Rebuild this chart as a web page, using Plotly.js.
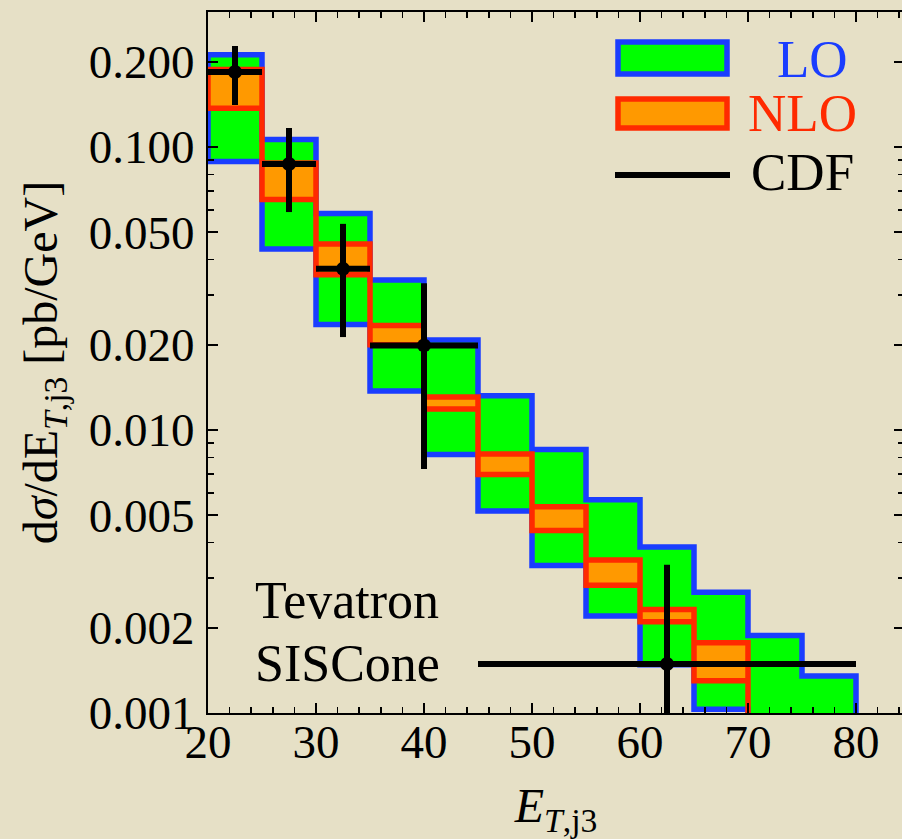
<!DOCTYPE html>
<html>
<head>
<meta charset="utf-8">
<script src="https://cdn.plot.ly/plotly-3.0.1.min.js"></script>
<style>
html,body{margin:0;padding:0;overflow:hidden;background:#e6e0c6;}
#chart{width:906px;height:839px;}
</style>
</head>
<body>
<div id="chart"></div>
<script>
// ---------------- data ----------------
const binEdges = [20, 25, 30, 35, 40, 45, 50, 55, 60, 65, 70, 75, 80];
// LO band (null = below the plotted range)
const loUpper = [0.212, 0.1063, 0.0582, 0.0339, 0.0208, 0.0132, 0.00853, 0.00567, 0.00386, 0.00267, 0.00188, 0.00135];
const loLower = [0.0889, 0.0436, 0.0236, 0.01373, 0.00819, 0.00517, 0.00332, 0.00220, 0.00148, 0.00103, null, null];
// NLO band
const nloUpper = [0.188, 0.0878, 0.0454, 0.0234, 0.01309, 0.00822, 0.00535, 0.00347, 0.00232, 0.00177, null, null];
const nloLower = [0.137, 0.0652, 0.0354, 0.0200, 0.01186, 0.00696, 0.00441, 0.00283, 0.00210, 0.00130, null, null];
// CDF data
const cdfX     = [22.5, 27.5, 32.5, 40, 62.5];
const cdfXLow  = [20, 25, 30, 35, 45];
const cdfXHigh = [25, 30, 35, 45, 80];
const cdfY     = [0.184, 0.0871, 0.0371, 0.0199, 0.00149];
const cdfYHigh = [0.2275, 0.1167, 0.0535, 0.0330, 0.00334];
const cdfYLow  = [0.1407, 0.0589, 0.0213, 0.00728, null];
// ticks
const yTickVals = [0.001, 0.002, 0.005, 0.01, 0.02, 0.05, 0.1, 0.2];
const yTickText = ["0.001", "0.002", "0.005", "0.010", "0.020", "0.050", "0.100", "0.200"];
const yMinorVals = [0.003, 0.004, 0.006, 0.007, 0.008, 0.009, 0.03, 0.04, 0.06, 0.07, 0.08, 0.09];
const xTickVals = [20, 30, 40, 50, 60, 70, 80];
const legendLabels = ["LO", "NLO", "CDF"];
const noteLines = ["Tevatron", "SISCone"];

// ---------------- helpers ----------------
const OFF = 1e-4; // value used for "below plotted range"
function bandPath(upper, lower) {
  const xs = [], ys = [];
  for (let i = 0; i < upper.length; i++) {
    const u = upper[i] == null ? OFF : upper[i];
    xs.push(binEdges[i], binEdges[i + 1]); ys.push(u, u);
  }
  for (let i = lower.length - 1; i >= 0; i--) {
    const l = lower[i] == null ? OFF : lower[i];
    xs.push(binEdges[i + 1], binEdges[i]); ys.push(l, l);
  }
  xs.push(xs[0]); ys.push(ys[0]);
  return {xs, ys};
}
const lo = bandPath(loUpper, loLower);
const nlo = bandPath(nloUpper, nloLower);

const barX = [], barY = [];
for (let i = 0; i < cdfX.length; i++) {
  barX.push(cdfX[i], cdfX[i], null);
  barY.push(cdfYLow[i] == null ? OFF : cdfYLow[i], cdfYHigh[i], null);
  barX.push(cdfXLow[i], cdfXHigh[i], null);
  barY.push(cdfY[i], cdfY[i], null);
}

const BLUE = '#1a3dff', GREEN = '#00ff00', RED = '#ff2a00', ORANGE = '#ff9900';
const FONT = 'Liberation Serif, Times New Roman, serif';
const BG = '#e6e0c6';

const W = 906, H = 839, ML = 208, MT = 12, MB = 126, MR = 2;
const PW = W - ML - MR, PH = H - MT - MB;
const px = p => (p - ML) / PW;
const py = p => (H - MB - p) / PH;

const traces = [
  {x: lo.xs, y: lo.ys, type: 'scatter', mode: 'lines', fill: 'toself',
   fillcolor: GREEN, line: {color: BLUE, width: 5.5}, hoverinfo: 'skip', showlegend: false},
  {x: nlo.xs, y: nlo.ys, type: 'scatter', mode: 'lines', fill: 'toself',
   fillcolor: ORANGE, line: {color: RED, width: 5.5}, hoverinfo: 'skip', showlegend: false},
  {x: barX, y: barY, type: 'scatter', mode: 'lines', line: {color: 'black', width: 6},
   hoverinfo: 'skip', showlegend: false, connectgaps: false},
  {x: cdfX, y: cdfY, type: 'scatter', mode: 'markers', marker: {color: 'black', size: 14},
   hoverinfo: 'skip', showlegend: false, cliponaxis: true}
];

const shapes = [
  {type: 'rect', xref: 'paper', yref: 'paper', x0: px(618), x1: px(727), y0: py(42), y1: py(74),
   fillcolor: GREEN, line: {color: BLUE, width: 5.5}},
  {type: 'rect', xref: 'paper', yref: 'paper', x0: px(618), x1: px(727), y0: py(99), y1: py(128),
   fillcolor: ORANGE, line: {color: RED, width: 5.5}},
  {type: 'line', xref: 'paper', yref: 'paper', x0: px(615), x1: px(730), y0: py(175), y1: py(175),
   line: {color: 'black', width: 6}}
];

const annotations = [
  {text: legendLabels[0], xref: 'paper', yref: 'paper', x: px(812), y: py(59), xanchor: 'center', yanchor: 'middle',
   showarrow: false, font: {family: FONT, size: 53, color: BLUE}},
  {text: legendLabels[1], xref: 'paper', yref: 'paper', x: px(802), y: py(113), xanchor: 'center', yanchor: 'middle',
   showarrow: false, font: {family: FONT, size: 53, color: RED}},
  {text: legendLabels[2], xref: 'paper', yref: 'paper', x: px(802), y: py(172), xanchor: 'center', yanchor: 'middle',
   showarrow: false, font: {family: FONT, size: 53, color: 'black'}},
  {text: noteLines[0], xref: 'paper', yref: 'paper', x: px(253), y: py(600), xanchor: 'left', yanchor: 'middle',
   showarrow: false, font: {family: FONT, size: 52, color: 'black'}},
  {text: noteLines[1], xref: 'paper', yref: 'paper', x: px(253), y: py(663), xanchor: 'left', yanchor: 'middle',
   showarrow: false, font: {family: FONT, size: 52, color: 'black'}}
];

const axisCommon = {
  showline: true, linecolor: 'black', linewidth: 2, mirror: 'ticks',
  ticks: 'inside', ticklen: 10, tickwidth: 1.5, tickcolor: 'black',
  showgrid: false, zeroline: false,
  tickfont: {family: FONT, size: 47, color: 'black'}
};

const layout = {
  width: W, height: H,
  margin: {l: ML, r: MR, t: MT, b: MB, pad: 0},
  paper_bgcolor: BG, plot_bgcolor: BG,
  font: {family: FONT, color: 'black'},
  showlegend: false,
  xaxis: Object.assign({}, axisCommon, {
    type: 'linear', range: [20, 20 + PW / 10.8],
    tickmode: 'array', tickvals: xTickVals,
    ticklabelstandoff: -13,
    minor: {dtick: 2, tick0: 20, ticks: 'inside', ticklen: 6, tickwidth: 1.5, tickcolor: 'black'},
    title: {text: '<i>E</i><sub><i>T</i>,j3</sub>', font: {family: FONT, size: 48, color: 'black'}, standoff: 27}
  }),
  yaxis: Object.assign({}, axisCommon, {
    type: 'log', range: [-3, -0.523],
    tickmode: 'array', tickvals: yTickVals, ticktext: yTickText,
    ticklabelstandoff: 2,
    minor: {tickmode: 'array', tickvals: yMinorVals, ticks: 'inside', ticklen: 6, tickwidth: 1.5, tickcolor: 'black'},
    title: {text: 'd<i>σ</i>/dE<sub><i>T</i>,j3</sub> [pb/GeV]', font: {family: FONT, size: 48, color: 'black'}, standoff: 16}
  }),
  shapes: shapes,
  annotations: annotations
};

Plotly.newPlot('chart', traces, layout, {displayModeBar: false, staticPlot: true});
</script>
</body>
</html>
